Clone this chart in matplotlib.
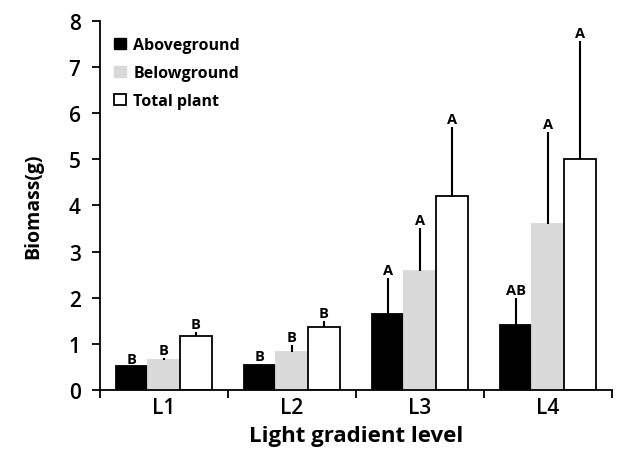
import numpy as np
import matplotlib
matplotlib.use("Agg")
import matplotlib.pyplot as plt
from matplotlib.patches import Patch

plt.rcParams['font.family'] = ['Open Sans', 'DejaVu Sans']

# data
levels = ["L1", "L2", "L3", "L4"]
above = [0.51, 0.54, 1.64, 1.41]
above_err = [0.0, 0.03, 0.78, 0.59]
below = [0.64, 0.82, 2.57, 3.60]
below_err = [0.05, 0.16, 0.94, 2.00]
total = [1.16, 1.36, 4.21, 5.01]
total_err = [0.09, 0.14, 1.49, 2.55]
above_lett = ["B", "B", "A", "AB"]
below_lett = ["B", "B", "A", "A"]
total_lett = ["B", "B", "A", "A"]

x = np.arange(len(levels))
w = 0.25

fig = plt.figure(figsize=(6.17, 4.56), dpi=100)
ax = fig.add_axes([0.162, 0.1425, 0.830, 0.8095])

series = [(above, above_err, above_lett, "black", "black", -w, "Aboveground"),
          (below, below_err, below_lett, "#d9d9d9", "#d9d9d9", 0.0, "Belowground"),
          (total, total_err, total_lett, "white", "black", w, "Total plant")]

for vals, errs, letts, fc, ec, off, lab in series:
    ax.bar(x + off, vals, w, color=fc, edgecolor=ec, linewidth=1.3,
           yerr=[np.zeros(len(vals)), errs], error_kw=dict(ecolor="black", elinewidth=1.5, capsize=0))
    for i in range(len(vals)):
        ax.text(x[i] + off, vals[i] + errs[i] + 0.02, letts[i], ha="center", va="bottom",
                fontsize=10.5, fontweight="bold")

ax.set_xlim(-0.5, 3.5)
ax.set_ylim(0, 8)
ax.set_yticks(range(0, 9))
ax.set_xticks(x)
ax.set_xticklabels(levels, fontweight="semibold")
ax.set_xticks(np.arange(-0.5, 4.0, 1.0), minor=True)
ax.tick_params(axis="x", which="major", length=0, labelsize=15, pad=5)
ax.tick_params(axis="x", which="minor", length=6, width=1.3, direction="out")
ax.tick_params(axis="y", length=6, width=1.3, direction="out", labelsize=15, pad=8)
for t in ax.get_yticklabels():
    t.set_fontweight("semibold")

for s in ["top", "right"]:
    ax.spines[s].set_visible(False)
for s in ["left", "bottom"]:
    ax.spines[s].set_linewidth(1.3)

ax.set_xlabel("Light gradient level", fontsize=16, fontweight="bold", labelpad=5)
ax.set_ylabel("Biomass(g)", fontsize=14, fontweight="bold", labelpad=18)

handles = [Patch(facecolor="black", edgecolor="black"),
           Patch(facecolor="#d9d9d9", edgecolor="#d9d9d9"),
           Patch(facecolor="white", edgecolor="black", linewidth=1.3)]
ax.legend(handles, [s[6] for s in series], loc="upper left", bbox_to_anchor=(0.0, 0.995),
          frameon=False, handlelength=0.7, handleheight=0.7, handletextpad=0.5,
          labelspacing=0.75, prop=dict(size=11.5, weight="bold"))

plt.savefig("out.png", dpi=100)
